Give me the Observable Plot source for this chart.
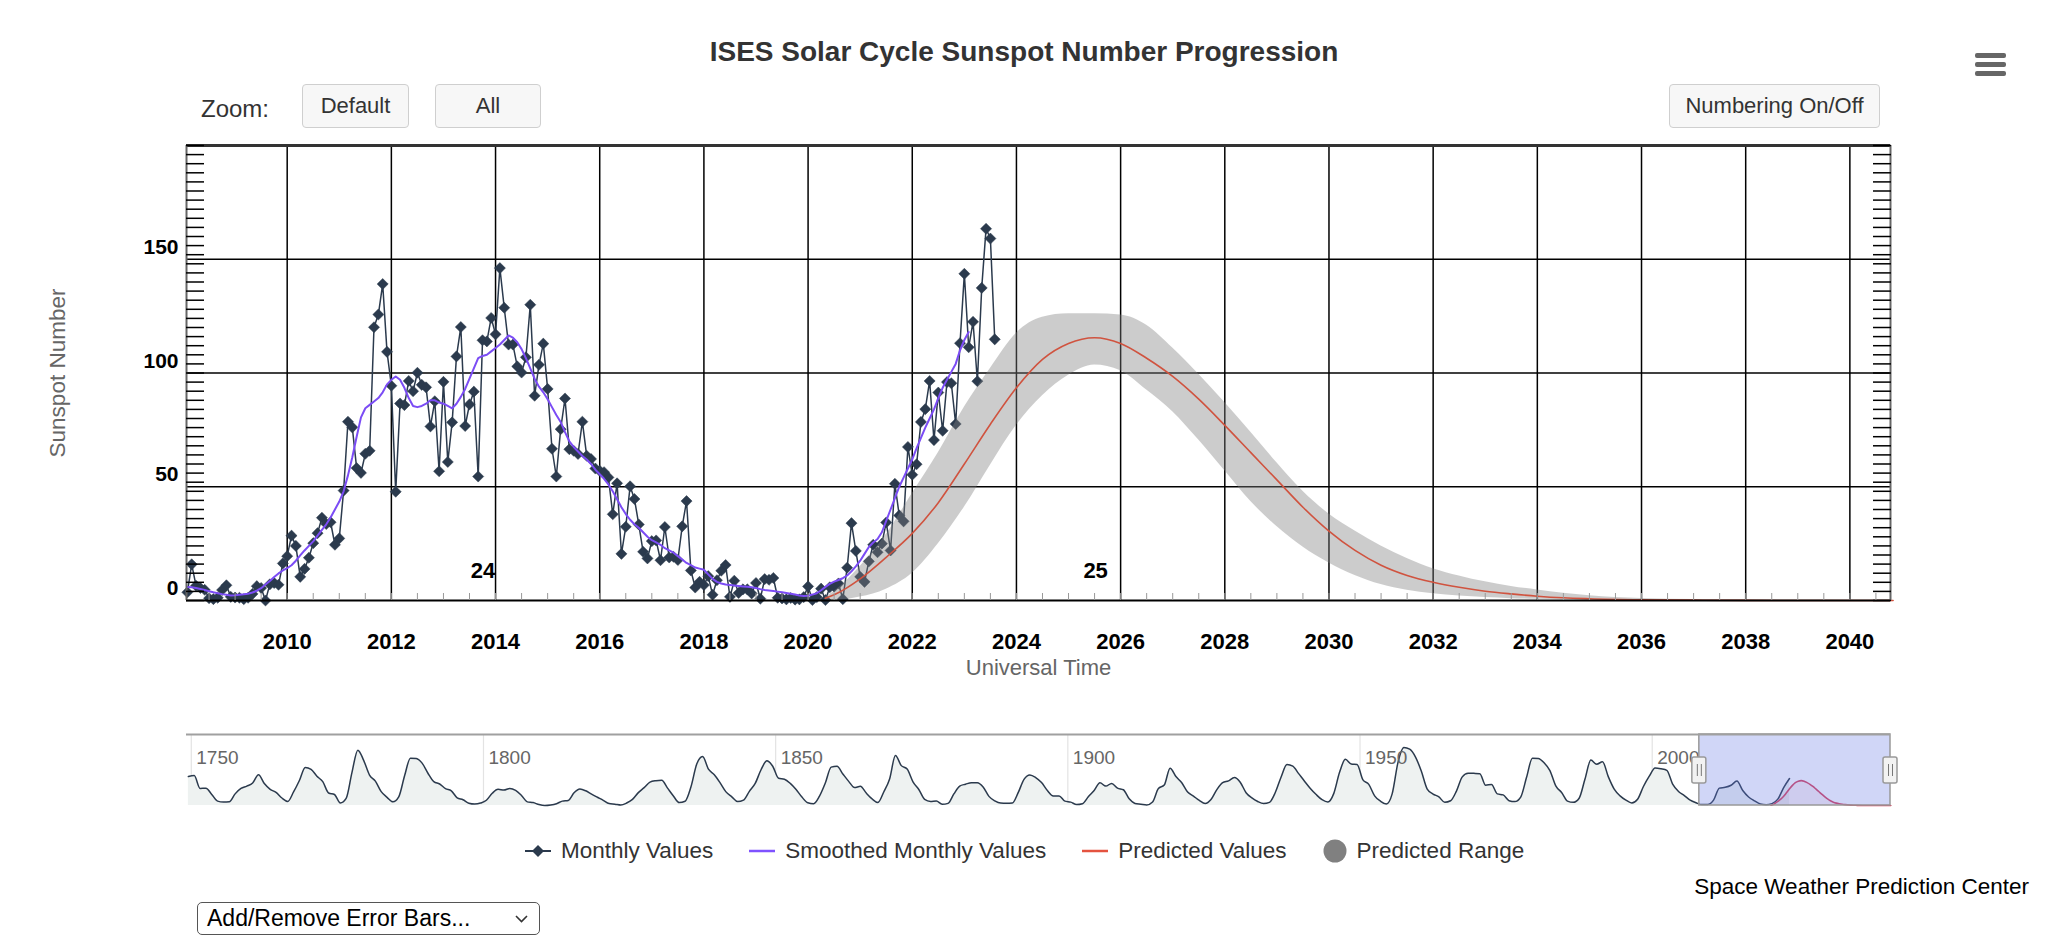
<!DOCTYPE html>
<html>
<head>
<meta charset="utf-8">
<script src="https://cdn.jsdelivr.net/npm/d3@7"></script>
<script src="https://cdn.jsdelivr.net/npm/@observablehq/plot@0.6"></script>
<style>
  html, body { margin: 0; padding: 0; background: #fff; overflow: hidden; }
  #page { position: relative; width: 2048px; height: 939px; overflow: hidden;
          font-family: "Liberation Sans", Arial, Helvetica, sans-serif; }
  .abs { position: absolute; }
  #title { left: 0; top: 36px; width: 2048px; text-align: center; font-size: 28px; line-height: 32px;
           font-weight: bold; color: #333; }
  .bar { position: absolute; left: 1975px; width: 31px; height: 5px; background: #666; border-radius: 2px; }
  #zoomlabel { left: 201px; top: 95px; font-size: 24px; line-height: 28px; color: #333; }
  .btn { position: absolute; top: 84px; height: 44px; box-sizing: border-box; border: 1.5px solid #cfcfcf;
         border-radius: 4px; background: #f7f7f7; font-size: 22px; color: #333;
         display: flex; align-items: center; justify-content: center; }
  #legend { left: 525px; top: 836px; height: 30px; display: flex; align-items: center; gap: 36px;
            font-size: 22.5px; color: #333; white-space: nowrap; }
  .item { display: flex; align-items: center; gap: 10px; }
  #credit { right: 19px; top: 874px; font-size: 22.5px; line-height: 26px; color: #000; }
  #dropdown { left: 197px; top: 902px; width: 343px; height: 33px; box-sizing: border-box;
              border: 1.5px solid #555; border-radius: 5px; font-size: 23px; line-height: 30px;
              padding-left: 9px; color: #000; }
  #dropdown svg { position: absolute; right: 11px; top: 12px; }
</style>
</head>
<body>
<div id="page">
  <div id="title" class="abs">ISES Solar Cycle Sunspot Number Progression</div>
  <div class="bar" style="top:53px"></div>
  <div class="bar" style="top:62px"></div>
  <div class="bar" style="top:71px"></div>
  <div id="zoomlabel" class="abs">Zoom:</div>
  <div class="btn" style="left:302px;width:107px">Default</div>
  <div class="btn" style="left:435px;width:106px">All</div>
  <div class="btn" style="left:1669px;width:211px">Numbering On/Off</div>
  <div id="mainchart" class="abs" style="left:0;top:135px"></div>
  <div id="navchart" class="abs" style="left:0;top:725px"></div>
  <div id="legend" class="abs"></div>
  <div id="credit" class="abs">Space Weather Prediction Center</div>
  <div id="dropdown" class="abs">Add/Remove Error Bars...
    <svg width="13" height="8"><polyline points="1,1 6.5,6.5 12,1" fill="none" stroke="#333" stroke-width="1.6"/></svg>
  </div>
</div>
<script>
// ---------------- DATA ----------------
// Observed monthly sunspot numbers, one value per month starting January 2008 (ending August 2023)
const monthlyStart = 2008;
const monthlyValues = [
  3.3, 3.6, 15.9, 6.5, 5.5, 4.7, 1.0, 0.6, 1.2, 4.6, 6.7, 1.6,
  1.3, 1.2, 0.6, 1.2, 2.9, 6.3, 5.5, 0.0, 7.1, 7.7, 6.9, 16.3,
  19.5, 28.5, 24.0, 10.4, 13.9, 18.8, 25.2, 29.6, 36.4, 33.6, 34.4, 24.5,
  27.3, 48.3, 78.6, 76.1, 58.2, 56.1, 64.5, 65.8, 120.1, 125.7, 139.1, 109.3,
  94.4, 47.8, 86.6, 85.9, 96.5, 92.0, 100.1, 94.8, 93.7, 76.5, 87.6, 56.8,
  96.1, 60.9, 78.3, 107.3, 120.2, 76.7, 86.2, 91.8, 54.5, 114.4, 113.9, 124.2,
  117.0, 146.1, 128.7, 112.5, 112.5, 102.9, 100.2, 106.9, 130.0, 90.0, 103.6, 112.9,
  93.0, 66.7, 54.5, 75.3, 88.8, 66.5, 65.8, 64.4, 78.6, 63.6, 62.2, 58.0,
  57.0, 56.4, 54.1, 37.9, 51.5, 20.5, 32.4, 50.2, 44.6, 33.4, 21.4, 18.5,
  26.1, 26.4, 17.7, 32.3, 18.9, 19.2, 17.8, 32.6, 43.7, 13.2, 5.7, 8.2,
  6.8, 10.7, 2.5, 8.9, 13.1, 15.6, 1.6, 8.7, 3.3, 4.9, 4.9, 3.1,
  7.7, 0.8, 9.4, 9.1, 9.9, 1.2, 0.9, 0.5, 1.1, 0.4, 0.5, 1.5,
  6.2, 0.2, 1.5, 5.2, 0.2, 5.8, 6.1, 7.5, 0.6, 14.4, 34.0, 21.8,
  10.4, 8.2, 17.2, 24.5, 21.2, 25.0, 34.3, 22.0, 51.3, 37.4, 34.8, 67.5,
  55.3, 59.9, 78.5, 84.1, 96.5, 70.5, 91.4, 74.6, 96.0, 95.5, 77.6, 113.1,
  143.6, 111.3, 122.5, 96.4, 137.4, 163.4, 159.1, 114.8
];
// Smoothed monthly values, January 2008 .. February 2023
const smoothedValues = [
  6.0, 5.9, 5.8, 5.5, 5.1, 4.6, 4.1, 3.6, 3.2, 2.8, 2.5, 2.2,
  2.3, 2.5, 2.7, 3.0, 3.5, 4.3, 5.4, 7.0, 8.6, 10.3, 11.9, 13.2,
  14.2, 15.5, 17.5, 19.8, 22.0, 24.0, 26.0, 28.5, 31.0, 33.5, 36.5, 40.0,
  43.5, 48.0, 55.0, 63.0, 72.0, 80.5, 84.5, 86.0, 87.5, 89.0, 91.5, 95.0,
  97.0, 98.5, 97.0, 93.5, 89.0, 85.5, 85.0, 85.5, 86.5, 88.0, 88.0, 87.0,
  86.5, 85.5, 84.5, 86.5, 89.5, 93.0, 97.5, 102.0, 106.5, 107.5, 108.0, 109.5,
  111.0, 112.5, 114.5, 116.5, 115.5, 113.5, 110.5, 106.5, 102.0, 97.5, 94.0, 91.5,
  88.5, 85.0, 81.5, 78.5, 74.0, 70.0, 67.5, 65.5, 63.5, 62.0, 60.0, 57.5,
  55.5, 53.5, 51.0, 48.0, 44.5, 41.0, 38.0, 35.5, 33.5, 32.0, 30.0, 28.0,
  26.5, 25.5, 24.5, 23.0, 22.0, 21.0, 19.5, 18.0, 16.5, 15.5, 14.5, 14.0,
  13.5, 11.5, 9.5, 8.2, 7.5, 7.0, 6.8, 6.6, 6.4, 6.2, 6.0, 5.8,
  5.5, 5.0, 4.6, 4.4, 4.2, 3.9, 3.6, 3.3, 3.0, 2.6, 2.2, 2.0,
  2.1, 2.6, 3.2, 4.5, 6.0, 7.3, 8.3, 9.0, 9.8, 11.0, 12.8, 15.0,
  17.5, 20.5, 23.5, 25.5, 27.0, 30.0, 35.0, 40.0, 45.0, 50.0, 54.0, 58.0,
  62.0, 67.0, 71.5, 76.0, 80.0, 84.0, 89.0, 93.5, 97.0, 100.5, 104.0, 110.0,
  114.5, 118.0
];
// Predicted values and predicted range
const predYears  = [2020.33, 2020.5, 2021.0, 2021.5, 2022.0, 2022.5, 2023.0, 2023.5, 2024.0, 2024.5, 2025.0, 2025.5, 2026.0, 2026.5, 2027.0, 2027.5, 2028.0, 2028.5, 2029.0, 2029.5, 2030.0, 2030.5, 2031.0, 2031.5, 2032.0, 2032.5, 2033.0, 2033.5, 2034.0, 2034.5, 2035.0, 2036.0, 2037.0, 2038.0, 2039.0, 2040.0, 2040.83];
const predValues = [1.0, 2.5, 9.5, 19.0, 29.5, 43.0, 60.0, 77.5, 93.5, 106.0, 113.0, 115.5, 113.0, 106.5, 98.5, 88.5, 77.0, 65.0, 53.0, 41.0, 30.5, 22.0, 15.5, 11.0, 8.0, 5.8, 4.1, 2.9, 1.9, 1.2, 0.8, 0.35, 0.15, 0.06, 0.02, 0.01, 0.0];
const predLow    = [0, 0, 1.5, 5.0, 12.0, 25.0, 41.0, 59.5, 77.0, 90.0, 99.0, 103.5, 101.0, 92.5, 83.0, 70.5, 57.0, 43.5, 32.5, 23.5, 16.5, 11.0, 7.0, 4.5, 3.0, 2.0, 1.3, 0.8, 0.5, 0.3, 0.2, 0.05, 0, 0, 0, 0, 0];
const predHigh   = [1.5, 4.0, 15.0, 29.0, 47.0, 65.0, 85.0, 102.0, 117.5, 124.5, 126.0, 126.0, 125.5, 121.0, 111.0, 99.5, 87.0, 74.0, 60.5, 48.0, 38.0, 30.5, 24.0, 18.5, 14.0, 10.8, 8.2, 6.2, 4.6, 3.2, 2.1, 0.9, 0.4, 0.2, 0.1, 0.05, 0];
// Navigator: yearly sunspot numbers, 1749 .. 2023
const historyStart = 1749;
const historyValues = [
  134.7,
  139.0, 79.5, 79.7, 51.5, 20.3, 16.0, 17.0, 54.0, 79.3, 90.0,
  104.8, 143.2, 102.0, 75.2, 60.7, 34.8, 19.0, 63.0, 116.3, 176.8,
  168.0, 136.0, 110.8, 58.0, 51.0, 11.7, 33.0, 154.2, 257.3, 209.8,
  141.3, 113.5, 64.2, 38.0, 17.0, 40.2, 138.2, 220.0, 218.2, 196.8,
  149.8, 111.0, 100.0, 78.2, 68.3, 35.5, 26.7, 10.7, 6.8, 11.3,
  24.2, 56.7, 75.0, 71.8, 79.2, 70.3, 46.8, 16.8, 13.5, 4.2,
  0.0, 2.3, 8.3, 20.3, 23.2, 59.0, 76.3, 68.3, 52.9, 38.5,
  24.2, 9.2, 6.3, 2.2, 11.4, 28.2, 59.9, 83.0, 108.5, 115.2,
  117.4, 80.8, 44.3, 13.4, 19.5, 85.8, 192.7, 227.3, 168.7, 143.0,
  105.5, 63.3, 40.3, 18.1, 25.1, 65.8, 102.7, 166.3, 208.3, 182.5,
  126.3, 122.0, 102.7, 74.1, 39.0, 12.7, 8.2, 43.4, 104.4, 178.3,
  182.2, 146.6, 112.1, 83.5, 89.2, 57.8, 30.7, 13.9, 62.8, 123.6,
  232.0, 185.3, 169.2, 110.1, 74.5, 28.3, 18.9, 20.7, 5.7, 10.0,
  53.7, 90.5, 99.0, 106.1, 105.8, 86.3, 42.4, 21.8, 11.2, 10.4,
  11.8, 59.5, 121.7, 142.0, 130.0, 106.6, 69.4, 43.8, 44.4, 20.2,
  15.7, 4.6, 8.5, 40.8, 70.1, 105.5, 90.1, 102.8, 80.9, 73.2,
  30.9, 9.5, 6.0, 2.4, 16.1, 79.0, 95.0, 173.6, 134.6, 105.7,
  62.7, 43.5, 23.7, 9.7, 27.9, 74.0, 106.5, 114.7, 129.7, 108.2,
  59.4, 35.1, 18.6, 9.2, 14.6, 60.2, 132.8, 190.6, 182.6, 148.0,
  113.0, 79.2, 50.8, 27.1, 16.1, 55.3, 154.3, 214.7, 193.0, 190.7,
  118.9, 98.3, 45.0, 20.1, 6.6, 54.2, 200.7, 269.3, 261.7, 225.1,
  159.0, 76.4, 53.4, 39.9, 15.0, 22.0, 66.8, 132.9, 150.0, 149.4,
  148.0, 94.4, 97.6, 54.1, 49.2, 22.5, 18.4, 39.3, 131.0, 220.1,
  218.9, 198.9, 162.4, 91.0, 60.5, 20.6, 14.8, 33.9, 123.0, 211.1,
  191.8, 203.3, 133.0, 76.1, 44.9, 25.1, 11.6, 28.9, 88.3, 136.3,
  173.9, 170.4, 163.6, 99.3, 65.3, 45.8, 24.7, 12.6, 4.2, 4.8,
  24.9, 80.8, 84.5, 94.0, 113.3, 69.8, 39.8, 21.7, 7.0, 3.6,
  8.8, 29.6, 83.2, 125.5
];
// Cycle number labels
const cycleNames = ["24", "25"];
const cycleYears = [2013.76, 2025.52];
const cycleLabelLevel = 13;
// Axis tick labels
const xTickYears = [2010, 2012, 2014, 2016, 2018, 2020, 2022, 2024, 2026, 2028, 2030, 2032, 2034, 2036, 2038, 2040];
const yTickValues = [0, 50, 100, 150];
const navTickYears = [1750, 1800, 1850, 1900, 1950, 2000];
const legendNames = ["Monthly Values", "Smoothed Monthly Values", "Predicted Values", "Predicted Range"];

// ---------------- BUILD ----------------
const FONT = '"Liberation Sans", Arial, Helvetica, sans-serif';
const DARK = "#2b3a4d", PURPLE = "#7b4cf5", RED = "#d0533f", BAND = "#808080";
const xDomain = [2008.067, 2040.78];
const yDomain = [0, 200];

const monthly = monthlyValues.map((v, i) => ({t: monthlyStart + i / 12, v}));
const smoothed = smoothedValues.map((v, i) => ({t: monthlyStart + i / 12, v}));
const pred = predYears.map((t, i) => ({t, v: predValues[i], lo: predLow[i], hi: predHigh[i]}));
const history = historyValues.map((v, i) => ({t: historyStart + i + 0.5, v}));
const cycles = cycleNames.map((name, i) => ({name, t: cycleYears[i], v: cycleLabelLevel}));
const yMinor = d3.range(0, 201, 4);
const xMinor = d3.range(2008.5, 2041, 0.5);

try {
const main = Plot.plot({
  width: 2048, height: 560,
  marginLeft: 186, marginRight: 158, marginTop: 10, marginBottom: 95,
  style: {fontFamily: FONT, background: "transparent", overflow: "visible"},
  x: {domain: xDomain},
  y: {domain: yDomain},
  marks: [
    Plot.gridX(xTickYears, {stroke: "#000", strokeOpacity: 1, strokeWidth: 1.5}),
    Plot.gridY([50, 100, 150], {stroke: "#000", strokeOpacity: 1, strokeWidth: 1.5}),
    Plot.line(monthly, {x: "t", y: "v", stroke: DARK, strokeWidth: 1.5, clip: true}),
    Plot.dot(monthly.filter(d => d.t >= xDomain[0]), {x: "t", y: "v", symbol: "diamond2", r: 5, fill: DARK, stroke: DARK, strokeWidth: 0.5}),
    Plot.areaY(pred, {x: "t", y1: "lo", y2: "hi", fill: BAND, fillOpacity: 0.4, curve: "monotone-x"}),
    Plot.line(smoothed, {x: "t", y: "v", stroke: PURPLE, strokeWidth: 2, clip: true}),
    Plot.line(pred, {x: "t", y: "v", stroke: RED, strokeWidth: 1.6, curve: "monotone-x"}),
    Plot.ruleY([0], {stroke: "#000", strokeWidth: 2}),
    Plot.ruleY([yDomain[1]], {stroke: "#333", strokeWidth: 3}),
    Plot.ruleX(xDomain, {stroke: "#666", strokeWidth: 2}),
    Plot.axisY({ticks: yMinor, anchor: "left", tickSize: 18, dx: 18, tickFormat: () => "", label: null, stroke: "#000", strokeWidth: 1.5}),
    Plot.axisY({ticks: yMinor, anchor: "right", tickSize: 18, dx: -18, tickFormat: () => "", label: null, stroke: "#000", strokeWidth: 1.5}),
    Plot.axisX({ticks: xMinor, anchor: "bottom", tickSize: 7, dy: -7, tickFormat: () => "", label: null, stroke: "#999"}),
    Plot.axisX({ticks: xTickYears, anchor: "bottom", tickSize: 0, tickPadding: 33, tickFormat: d => String(d),
                fontSize: 22, fontWeight: "bold", fill: "#000", label: null}),
    Plot.axisY({ticks: yTickValues, anchor: "left", tickSize: 0, tickPadding: 8, dy: -12, tickFormat: d => String(d),
                fontSize: 21, fontWeight: "bold", fill: "#000", label: null}),
    Plot.text(["Universal Time"], {text: d => d, frameAnchor: "bottom", dy: 74, fontSize: 22, fill: "#666"}),
    Plot.text(["Sunspot Number"], {text: d => d, frameAnchor: "left", textAnchor: "middle", dx: -129, rotate: -90, fontSize: 22.5, fill: "#666"}),
    Plot.text(cycles, {x: "t", y: "v", text: "name", fontSize: 22, fontWeight: "bold", fill: "#000"})
  ]
});
document.getElementById("mainchart").appendChild(main);

const navMax = 330;
const nav = Plot.plot({
  width: 2048, height: 95,
  marginLeft: 186, marginRight: 158, marginTop: 9, marginBottom: 15,
  style: {fontFamily: FONT, background: "transparent", overflow: "visible"},
  x: {domain: [1749.18, xDomain[1]], axis: null},
  y: {domain: [0, navMax], axis: null},
  marks: [
    Plot.gridX(navTickYears, {stroke: "#e3e3e3", strokeOpacity: 1, strokeWidth: 1.2}),
    Plot.areaY(history, {x: "t", y: "v", fill: "#eef2f1", curve: "monotone-x"}),
    Plot.line(history, {x: "t", y: "v", stroke: DARK, strokeWidth: 1.5, curve: "monotone-x"}),
    Plot.areaY(pred, {x: "t", y: "v", fill: "#e0506a", fillOpacity: 0.08, curve: "monotone-x"}),
    Plot.line(pred, {x: "t", y: "v", stroke: "#d9435f", strokeWidth: 1.6, curve: "monotone-x"}),
    Plot.text(navTickYears, {x: d => d, text: d => String(d), frameAnchor: "top", dy: 16, dx: 5,
                             textAnchor: "start", fill: "#666", fontSize: 19}),
    Plot.rect([{a: xDomain[0], b: xDomain[1]}], {x1: "a", x2: "b", y1: 0, y2: navMax,
               fill: "#6276e4", fillOpacity: 0.3, stroke: "#999", strokeWidth: 1.5}),
    Plot.ruleY([navMax], {stroke: "#a0a0a0", strokeWidth: 2}),
    Plot.rect(xDomain, {x1: d => d, x2: d => d, y1: 0, y2: navMax, insetLeft: -7, insetRight: -7,
                        insetTop: 23, insetBottom: 22, fill: "#f2f2f2", stroke: "#999", strokeWidth: 1.5, rx: 2}),
    Plot.ruleX(xDomain, {x: d => d, dx: -2, insetTop: 30, insetBottom: 29, stroke: "#777", strokeWidth: 1}),
    Plot.ruleX(xDomain, {x: d => d, dx: 2, insetTop: 30, insetBottom: 29, stroke: "#777", strokeWidth: 1})
  ]
});
document.getElementById("navchart").appendChild(nav);
} catch (e) {
  document.getElementById("mainchart").textContent = "ERROR: " + e.message;
}

// Legend
const legendSymbols = [
  `<svg width="26" height="14"><line x1="0" y1="7" x2="26" y2="7" stroke="${DARK}" stroke-width="2"/><path d="M13,1L19,7L13,13L7,7Z" fill="${DARK}"/></svg>`,
  `<svg width="26" height="14"><line x1="0" y1="7" x2="26" y2="7" stroke="#7f52ff" stroke-width="2.5"/></svg>`,
  `<svg width="26" height="14"><line x1="0" y1="7" x2="26" y2="7" stroke="#e4533f" stroke-width="2.5"/></svg>`,
  `<svg width="24" height="24"><circle cx="12" cy="12" r="11.5" fill="#808080"/></svg>`
];
const legend = document.getElementById("legend");
legendNames.forEach((name, i) => {
  const item = document.createElement("div");
  item.className = "item";
  item.innerHTML = legendSymbols[i] + `<span>${name}</span>`;
  legend.appendChild(item);
});
</script>
</body>
</html>
